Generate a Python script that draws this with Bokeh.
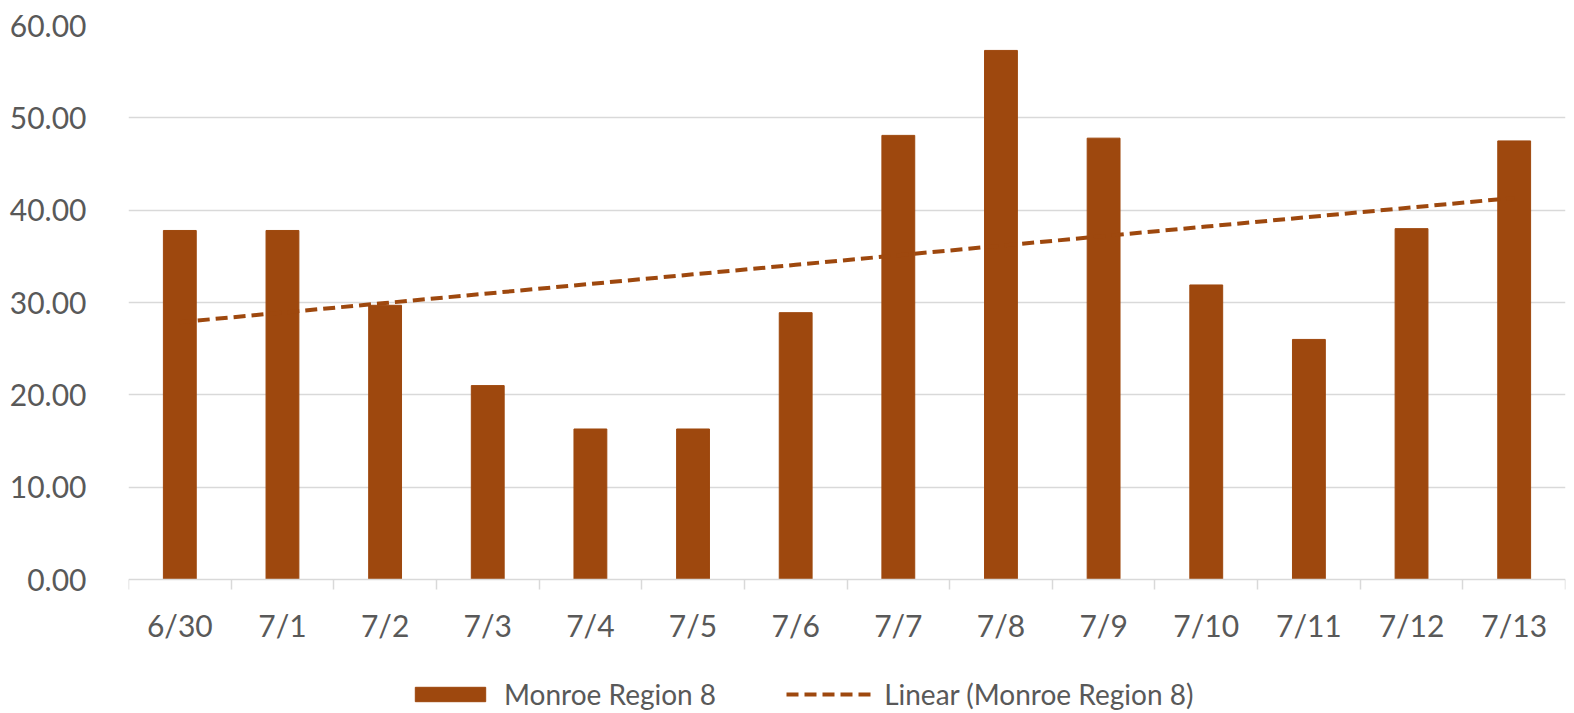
import numpy as np
from bokeh.plotting import figure
from bokeh.models import (ColumnDataSource, FixedTicker, Range1d, Legend, LegendItem,
                          NumeralTickFormatter)
from bokeh.embed import file_html
from bokeh.resources import INLINE

# ---- data ----
categories = ["6/30", "7/1", "7/2", "7/3", "7/4", "7/5", "7/6",
              "7/7", "7/8", "7/9", "7/10", "7/11", "7/12", "7/13"]
values = [37.8, 37.8, 29.7, 21.0, 16.3, 16.3, 28.9,
          48.1, 57.3, 47.8, 31.9, 26.0, 38.0, 47.5]
series_name = "Monroe Region 8"
trend_name = "Linear (Monroe Region 8)"
y_ticks = [0, 10, 20, 30, 40, 50, 60]

BAR = "#9E480E"
GRID = "#D9D9D9"
TXT = "#595959"
FONT = "Lato"

n = len(categories)
xc = np.arange(n) + 0.5
src = ColumnDataSource(dict(x=xc, top=values, cat=categories))

# linear trend (least squares)
slope, intercept = np.polyfit(np.arange(n), np.array(values), 1)
trend_y = intercept + slope * np.arange(n)

# layout: value axis spans 554 px for 0..60; 134 px below zero hold the labels & legend
TOP, ZERO_PX, H = 25, 579, 713
ymax = 60.0
ymin = -ymax * (H - ZERO_PX) / (ZERO_PX - TOP)

p = figure(width=1574, height=H, output_backend="svg", toolbar_location=None,
           x_range=Range1d(0, n), y_range=Range1d(ymin, ymax),
           min_border_left=128, min_border_right=9, min_border_top=TOP, min_border_bottom=0)
p.outline_line_color = None
p.background_fill_color = "white"
p.border_fill_color = "white"

bars = p.vbar(x="x", top="top", width=0.32, bottom=0, source=src,
              fill_color=BAR, line_color=BAR, line_width=1)
trend = p.line(xc, trend_y, line_color=BAR, line_width=4, line_dash="12 6")

# x axis (drawn at value 0)
xa = p.xaxis[0]
xa.fixed_location = 0
xa.ticker = FixedTicker(ticks=list(xc), minor_ticks=list(range(n + 1)))
xa.major_label_overrides = {float(x): c for x, c in zip(xc, categories)}
xa.major_tick_out = 0
xa.major_tick_in = 0
xa.minor_tick_out = 10
xa.minor_tick_in = 0
xa.minor_tick_line_color = GRID
xa.minor_tick_line_width = 1.5
xa.axis_line_color = GRID
xa.axis_line_width = 1.5
xa.major_label_text_font = FONT
xa.major_label_text_font_size = "30px"
xa.major_label_text_color = TXT
xa.major_label_standoff = 17

# y axis
ya = p.yaxis[0]
ya.ticker = FixedTicker(ticks=y_ticks)
ya.formatter = NumeralTickFormatter(format="0.00")
ya.axis_line_color = None
ya.major_tick_line_color = None
ya.minor_tick_line_color = None
ya.major_label_text_font = FONT
ya.major_label_text_font_size = "30px"
ya.major_label_text_color = TXT
ya.major_label_standoff = 36

p.xgrid.grid_line_color = None
p.ygrid.ticker = FixedTicker(ticks=y_ticks[1:])
p.ygrid.grid_line_color = GRID
p.ygrid.grid_line_width = 1.5

legend = Legend(items=[LegendItem(label=series_name, renderers=[bars]),
                       LegendItem(label=trend_name, renderers=[trend])],
                orientation="horizontal", location=(278, 2),
                glyph_width=88, glyph_height=18, label_standoff=10, spacing=70,
                label_text_font=FONT, label_text_font_size="28px", label_text_color=TXT,
                background_fill_alpha=0, border_line_color=None, padding=0, margin=0)
p.add_layout(legend, "center")

open("out.html", "w").write(file_html(p, INLINE))
